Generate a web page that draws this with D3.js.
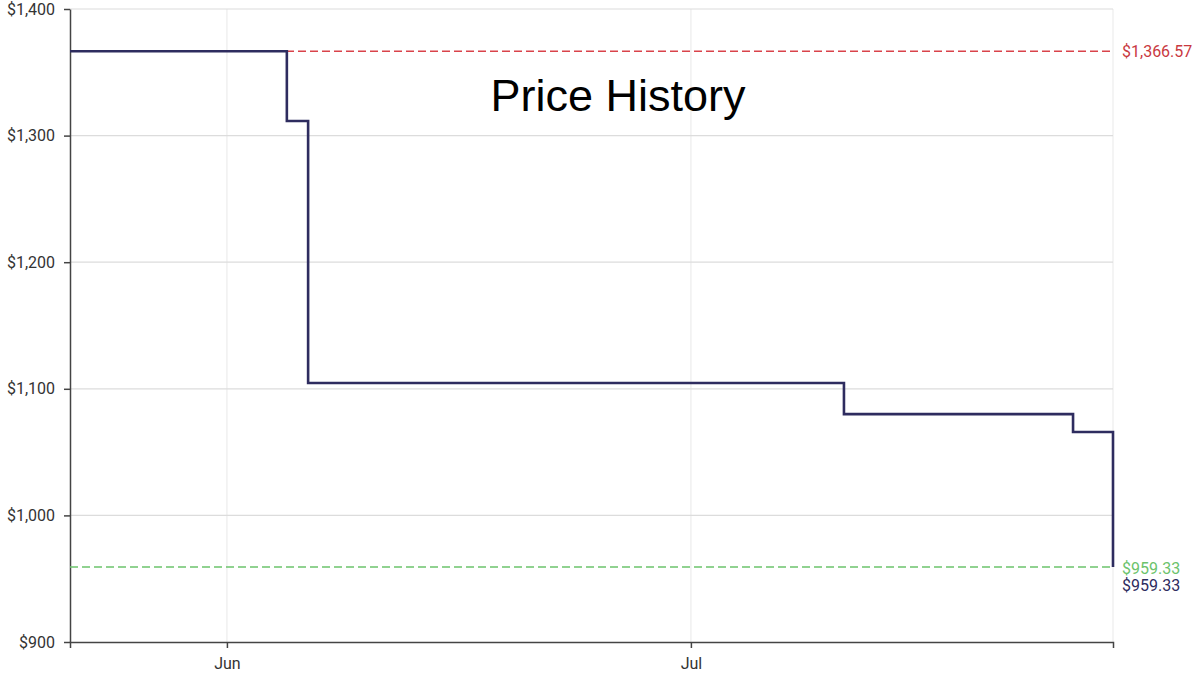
<!DOCTYPE html>
<html>
<head>
<meta charset="utf-8">
<script src="https://cdn.jsdelivr.net/npm/d3@7"></script>
<style>
  body { margin: 0; background: #fff; }
  svg { display: block; }
  .axis text { font-family: Roboto, sans-serif; font-size: 16px; fill: #333; }
  .axis path, .axis line { stroke: #444; stroke-width: 1.5px; }
</style>
</head>
<body>
<div id="chart"></div>
<script>
// price change points (UTC)
const dates = ["2023-05-21T20:30Z", "2023-06-04T21:00Z", "2023-06-06T06:00Z", "2023-07-10T21:30Z", "2023-07-25T17:00Z", "2023-07-28T07:00Z"];
const prices = [1366.57, 1311.5, 1104.6, 1080.0, 1065.9, 959.33];
const highest = 1366.57, lowest = 959.33, current = 959.33;
const yTicks = [900, 1000, 1100, 1200, 1300, 1400];
const xTicks = ["2023-06-01T00:00Z", "2023-07-01T00:00Z"];

var width = 1200, height = 681,
    margin = {top: 9, right: 87, bottom: 39, left: 70};

var data = dates.map(function(d, i) { return {date: new Date(d), price: prices[i]}; });

var svg = d3.select("#chart").append("svg")
    .attr("width", width)
    .attr("height", height);

var x = d3.scaleUtc()
    .domain(d3.extent(data, function(d) { return d.date; }))
    .range([margin.left, width - margin.right]);

var y = d3.scaleLinear()
    .domain([900, 1400])
    .range([height - margin.bottom, margin.top]);

// vertical grid (very faint)
svg.append("g")
  .selectAll("line")
  .data(xTicks.map(function(d) { return new Date(d); }).concat([x.domain()[1]]))
  .enter().append("line")
    .attr("x1", function(d) { return x(d); })
    .attr("x2", function(d) { return x(d); })
    .attr("y1", margin.top)
    .attr("y2", height - margin.bottom)
    .attr("stroke", "#f0f0f0")
    .attr("stroke-width", 1.5);

// horizontal grid
svg.append("g")
  .selectAll("line")
  .data(yTicks.slice(1))
  .enter().append("line")
    .attr("x1", margin.left)
    .attr("x2", width - margin.right)
    .attr("y1", function(d) { return y(d); })
    .attr("y2", function(d) { return y(d); })
    .attr("stroke", "#dcdcdc")
    .attr("stroke-width", 1.2);

// axes
svg.append("g")
    .attr("class", "axis")
    .attr("transform", "translate(" + margin.left + ",0)")
    .call(d3.axisLeft(y).tickValues(yTicks).tickSize(6).tickSizeOuter(0).tickPadding(9)
      .tickFormat(function(d) { return "$" + d3.format(",")(d); }));

svg.append("g")
    .attr("class", "axis")
    .attr("transform", "translate(0," + (height - margin.bottom) + ")")
    .call(d3.axisBottom(x).tickValues(xTicks.map(function(d) { return new Date(d); }))
      .tickSize(6).tickSizeOuter(6).tickPadding(10)
      .tickFormat(d3.utcFormat("%b")));

// highest / lowest reference lines
svg.append("line")
    .attr("x1", margin.left).attr("x2", width - margin.right)
    .attr("y1", y(highest)).attr("y2", y(highest))
    .attr("stroke", "#d9434a").attr("stroke-width", 1.5)
    .attr("stroke-dasharray", "8,4");

svg.append("line")
    .attr("x1", margin.left).attr("x2", width - margin.right)
    .attr("y1", y(lowest)).attr("y2", y(lowest))
    .attr("stroke", "#6cc36c").attr("stroke-width", 1.5)
    .attr("stroke-dasharray", "8,4");

// price step line
var line = d3.line()
    .curve(d3.curveStepAfter)
    .x(function(d) { return x(d.date); })
    .y(function(d) { return y(d.price); });

svg.append("path")
    .datum(data)
    .attr("d", line)
    .attr("fill", "none")
    .attr("stroke", "#2e2c5f")
    .attr("stroke-width", 2.6);

// labels on the right
var fmt = function(v) { return "$" + d3.format(",.2f")(v); };
var labelX = width - margin.right + 9;
svg.append("text")
    .attr("x", labelX).attr("y", y(highest)).attr("dy", "0.35em")
    .style("font-family", "Roboto, sans-serif").style("font-size", "16px")
    .style("fill", "#c9393f")
    .text(fmt(highest));
svg.append("text")
    .attr("x", labelX).attr("y", y(lowest) + 2).attr("dy", "0.35em")
    .style("font-family", "Roboto, sans-serif").style("font-size", "16px")
    .style("fill", "#6cc36c")
    .text(fmt(lowest));
svg.append("text")
    .attr("x", labelX).attr("y", y(current) + 19).attr("dy", "0.35em")
    .style("font-family", "Roboto, sans-serif").style("font-size", "16px")
    .style("fill", "#2e2c5f")
    .text(fmt(current));

// title
svg.append("text")
    .attr("x", 618).attr("y", 111)
    .attr("text-anchor", "middle")
    .style("font-family", "'Liberation Sans', Arial, sans-serif")
    .style("font-size", "45px")
    .style("fill", "#000")
    .text("Price History");
</script>
</body>
</html>
